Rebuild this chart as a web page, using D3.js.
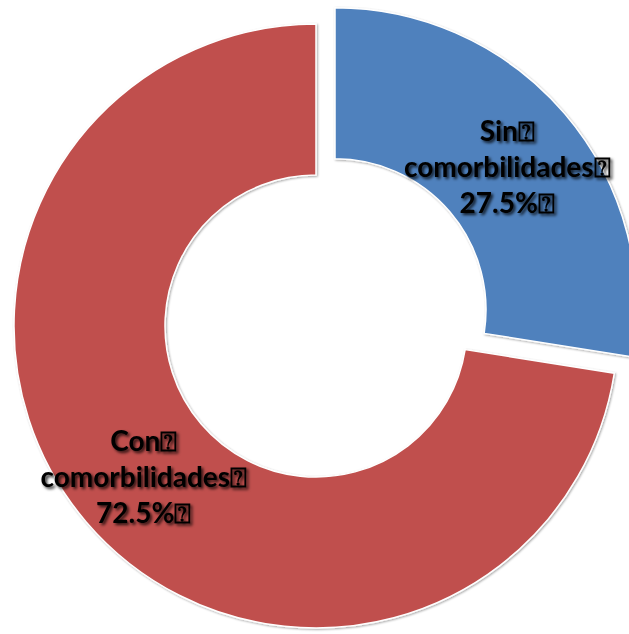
<!DOCTYPE html>
<html>
<head>
<meta charset="utf-8">
<script src="https://cdn.jsdelivr.net/npm/d3@7"></script>
<style>
  html, body { margin: 0; padding: 0; background: #fff; }
  svg { display: block; }
</style>
</head>
<body>
<div id="chart"></div>
<script>
// Patients with and without comorbidities
const categories = ["Sin comorbilidades", "Con comorbilidades"];
const labelLines = [["Sin", "comorbilidades", "27.5%"], ["Con", "comorbilidades", "72.5%"]];
const values = [27.5, 72.5];
const colors = ["#4F81BD", "#C0504D"];
const explode = [25, 0];

const width = 629, height = 634;
const cx = 316, cy = 326;
const outerR = 302, innerR = 151;
const tofu = "\u2370";

const svg = d3.select("#chart").append("svg")
  .attr("width", width).attr("height", height);

const defs = svg.append("defs");
const sliceShadow = defs.append("filter").attr("id", "sliceShadow")
  .attr("x", "-10%").attr("y", "-10%").attr("width", "120%").attr("height", "120%");
sliceShadow.append("feDropShadow")
  .attr("dx", 1).attr("dy", 1).attr("stdDeviation", 1.2)
  .attr("flood-color", "#000").attr("flood-opacity", 0.35);

const textShadow = defs.append("filter").attr("id", "textShadow")
  .attr("x", "-20%").attr("y", "-40%").attr("width", "140%").attr("height", "180%");
textShadow.append("feDropShadow")
  .attr("dx", 2).attr("dy", 2).attr("stdDeviation", 1.8)
  .attr("flood-color", "#000").attr("flood-opacity", 0.8);

const pie = d3.pie().sort(null).value(d => d)(values);
const arc = d3.arc().innerRadius(innerR).outerRadius(outerR);

const g = svg.append("g").attr("transform", `translate(${cx},${cy})`);

const slices = g.selectAll("g.slice").data(pie).join("g")
  .attr("class", "slice")
  .attr("transform", (d, i) => {
    const a = (d.startAngle + d.endAngle) / 2;
    return `translate(${Math.sin(a) * explode[i]},${-Math.cos(a) * explode[i]})`;
  });

slices.append("path")
  .attr("d", arc)
  .attr("fill", (d, i) => colors[i])
  .attr("stroke", "#fff")
  .attr("stroke-width", 1.5)
  .attr("filter", "url(#sliceShadow)");

const lineH = 36;
slices.append("text")
  .attr("transform", d => `translate(${arc.centroid(d)})`)
  .attr("text-anchor", "middle")
  .attr("font-family", "Lato, 'Open Sans', sans-serif")
  .attr("font-weight", "bold")
  .attr("font-size", 28)
  .attr("fill", "#000")
  .attr("filter", "url(#textShadow)")
  .selectAll("tspan")
  .data((d, i) => labelLines[i].map((t, j) => ({ t, j })))
  .join("tspan")
  .attr("x", 0)
  .attr("y", d => (d.j - 1) * lineH + 14)
  .text(d => d.t + tofu);
</script>
</body>
</html>
